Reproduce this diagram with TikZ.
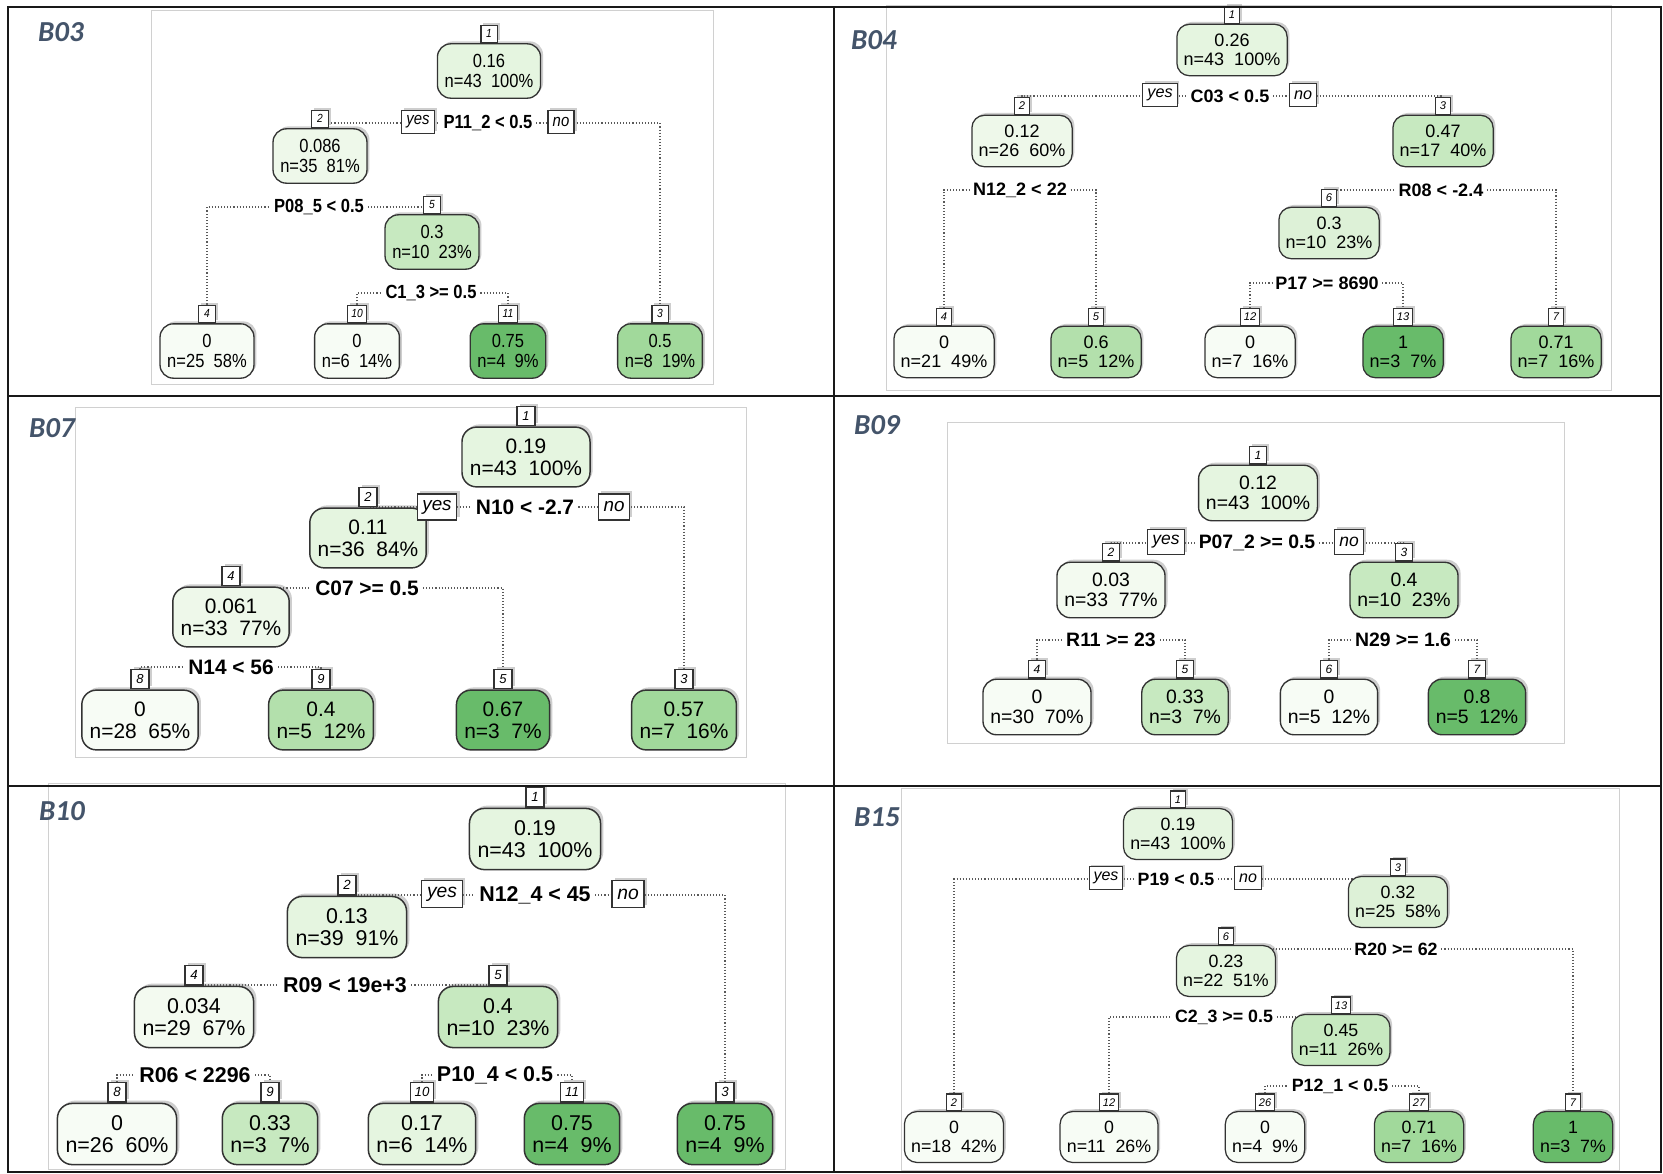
\documentclass[tikz,border=0pt]{standalone}
\usepackage{fontspec}
\setmainfont{Liberation Sans}
\newfontfamily\narrowsf[FakeStretch=0.87]{Liberation Sans}
\newfontfamily\lblfont{Carlito}
\usetikzlibrary{shadows,backgrounds}
\definecolor{gw}{HTML}{F7FCF5}
\definecolor{gl0}{HTML}{F3FAF0}
\definecolor{gl1}{HTML}{EEF8EA}
\definecolor{gl2}{HTML}{E5F5E0}
\definecolor{gl3}{HTML}{DDF1D7}
\definecolor{gm}{HTML}{C7E9C0}
\definecolor{gm2}{HTML}{B3E0AC}
\definecolor{gd}{HTML}{A1D99B}
\definecolor{gx}{HTML}{68BB6A}
\definecolor{lblc}{HTML}{44546A}
\definecolor{imgfr}{HTML}{D0D0D0}
\newcommand\panelfont{\pgfmathsetmacro\pub{1.06*\pu}\pgfmathsetmacro\puy{0.9*\pu}\pgfmathsetmacro\pun{0.62*\pu}\fontsize{\pu}{\pub}\selectfont}
\tikzset{
  shd/.style={drop shadow={shadow xshift={0.13*\pu}, shadow yshift={-0.13*\pu}, opacity=0.35, fill=black!55}},
  tn/.style={draw=black!80, line width={0.07*\pu}, rounded corners={0.7*\pu}, inner xsep={0.38*\pu}, inner ysep=0pt, minimum height={2.86*\pu}, align=center, shd},
  nb/.style={draw=black!80, fill=white, line width={0.06*\pu}, font=\itshape\fontsize{\pun}{\pun}\selectfont, inner xsep={0.2*\pu}, inner ysep=0pt, minimum height={0.92*\pu}, minimum width={0.85*\pu}, shd},
  yn/.style={draw=black!80, fill=white, line width={0.06*\pu}, font=\itshape\fontsize{\puy}{\puy}\selectfont, inner xsep={0.25*\pu}, inner ysep=0pt, minimum height={1.25*\pu}, shd},
  sp/.style={font=\bfseries, inner xsep={0.2*\pu}, inner ysep={0.1*\pu}},
  conn/.style={draw=black!65, line width=1.1pt, dash pattern=on 1.1pt off 2pt},
  imgframe/.style={draw=imgfr, line width=1pt},
  lbl/.style={font=\lblfont\bfseries\itshape\fontsize{29}{32}\selectfont, text=lblc, inner sep=0pt, anchor=mid west},
  grid/.style={draw=black!90, line width=2.8pt}
}
\newcommand\treenode[7]{%
  \node[tn, fill=#5] (#1) at (#3,#4) {#6\\#7};
  \node[nb, anchor=south] (#1b) at (#1.north) {#2};}
\newcommand\splitnode[6]{%
  \node[sp] (#1) at (#2,#3) {#4};
  \begin{scope}[on background layer]
    \draw[conn] (#5.north) |- (#1) -| (#6.north);
  \end{scope}}
\begin{document}
\begin{tikzpicture}[x=1pt,y=-1pt]
\useasboundingbox (0,0) rectangle (1663,1173);
\begin{scope}[on background layer]
  \fill[white] (0,0) rectangle (1663,1173);
  \draw[imgframe] (151,10) rectangle (713,384);
  \draw[imgframe] (886,5) rectangle (1611,390);
  \draw[imgframe] (75,407) rectangle (746,757);
  \draw[imgframe] (947,422) rectangle (1564,743);
  \draw[imgframe] (48,783) rectangle (785,1169);
  \draw[imgframe] (901,788) rectangle (1619,1170);
\end{scope}

% ---------------- B03 ----------------
\begin{scope}
\def\pu{19}\narrowsf\panelfont
\treenode{a1}{1}{489}{71}{gl2}{0.16}{n=43~~100\%}
\treenode{a2}{2}{320}{156}{gl1}{0.086}{n=35~~81\%}
\treenode{a5}{5}{432}{242}{gm}{0.3}{n=10~~23\%}
\treenode{a4}{4}{207}{351}{gw}{0}{n=25~~58\%}
\treenode{a10}{10}{357}{351}{gw}{0}{n=6~~14\%}
\treenode{a11}{11}{508}{351}{gx}{0.75}{n=4~~9\%}
\treenode{a3}{3}{660}{351}{gd}{0.5}{n=8~~19\%}
\splitnode{as1}{488}{123}{P11\_2 < 0.5}{a2b}{a3b}
\splitnode{as2}{319}{207}{P08\_5 < 0.5}{a4b}{a5b}
\splitnode{as3}{431}{293}{C1\_3 >= 0.5}{a10b}{a11b}
\node[yn] (ay) at (418,122) {yes};
\node[yn] (an) at (561,122) {no};
\end{scope}

% ---------------- B04 ----------------
\begin{scope}
\def\pu{18}\panelfont
\treenode{b1}{1}{1232}{50}{gl2}{0.26}{n=43~~100\%}
\treenode{b2}{2}{1022}{141}{gl1}{0.12}{n=26~~60\%}
\treenode{b3}{3}{1443}{141}{gm}{0.47}{n=17~~40\%}
\treenode{b6}{6}{1329}{233}{gl3}{0.3}{n=10~~23\%}
\treenode{b4}{4}{944}{352}{gw}{0}{n=21~~49\%}
\treenode{b5}{5}{1096}{352}{gm2}{0.6}{n=5~~12\%}
\treenode{b12}{12}{1250}{352}{gw}{0}{n=7~~16\%}
\treenode{b13}{13}{1403}{352}{gx}{1}{n=3~~7\%}
\treenode{b7}{7}{1556}{352}{gd}{0.71}{n=7~~16\%}
\splitnode{bs1}{1230}{96}{C03 < 0.5}{b2b}{b3b}
\splitnode{bs2}{1020}{190}{N12\_2 < 22}{b4b}{b5b}
\splitnode{bs3}{1441}{190}{R08 < -2.4}{b6b}{b7b}
\splitnode{bs4}{1327}{283}{P17 >= 8690}{b12b}{b13b}
\node[yn] (by) at (1160,95) {yes};
\node[yn] (bn) at (1303,95) {no};
\end{scope}

% ---------------- B07 ----------------
\begin{scope}
\def\pu{20.9}\panelfont
\treenode{c1}{1}{526}{457}{gl2}{0.19}{n=43~~100\%}
\treenode{c2}{2}{368}{538}{gl2}{0.11}{n=36~~84\%}
\treenode{c4}{4}{231}{617}{gl1}{0.061}{n=33~~77\%}
\treenode{c8}{8}{140}{720}{gw}{0}{n=28~~65\%}
\treenode{c9}{9}{321}{720}{gm2}{0.4}{n=5~~12\%}
\treenode{c5}{5}{503}{720}{gx}{0.67}{n=3~~7\%}
\treenode{c3}{3}{684}{720}{gd}{0.57}{n=7~~16\%}
\splitnode{cs1}{525}{507}{N10 < -2.7}{c2b}{c3b}
\splitnode{cs2}{367}{588}{C07 >= 0.5}{c4b}{c5b}
\splitnode{cs3}{231}{667}{N14 < 56}{c8b}{c9b}
\node[yn] (cy) at (437,507) {yes};
\node[yn] (cn) at (614,507) {no};
\end{scope}

% ---------------- B09 ----------------
\begin{scope}
\def\pu{19.4}\panelfont
\treenode{d1}{1}{1258}{493}{gl2}{0.12}{n=43~~100\%}
\treenode{d2}{2}{1111}{590}{gl0}{0.03}{n=33~~77\%}
\treenode{d3}{3}{1404}{590}{gm}{0.4}{n=10~~23\%}
\treenode{d4}{4}{1037}{707}{gw}{0}{n=30~~70\%}
\treenode{d5}{5}{1185}{707}{gm}{0.33}{n=3~~7\%}
\treenode{d6}{6}{1329}{707}{gw}{0}{n=5~~12\%}
\treenode{d7}{7}{1477}{707}{gx}{0.8}{n=5~~12\%}
\splitnode{ds1}{1257}{543}{P07\_2 >= 0.5}{d2b}{d3b}
\splitnode{ds2}{1111}{640}{R11 >= 23}{d4b}{d5b}
\splitnode{ds3}{1403}{640}{N29 >= 1.6}{d6b}{d7b}
\node[yn] (dy) at (1166,542) {yes};
\node[yn] (dn) at (1349,542) {no};
\end{scope}

% ---------------- B10 ----------------
\begin{scope}
\def\pu{21.4}\panelfont
\treenode{e1}{1}{535}{839}{gl2}{0.19}{n=43~~100\%}
\treenode{e2}{2}{347}{927}{gl2}{0.13}{n=39~~91\%}
\treenode{e4}{4}{194}{1017}{gl0}{0.034}{n=29~~67\%}
\treenode{e5}{5}{498}{1017}{gm}{0.4}{n=10~~23\%}
\treenode{e8}{8}{117}{1134}{gw}{0}{n=26~~60\%}
\treenode{e9}{9}{270}{1134}{gm}{0.33}{n=3~~7\%}
\treenode{e10}{10}{422}{1134}{gl2}{0.17}{n=6~~14\%}
\treenode{e11}{11}{572}{1134}{gx}{0.75}{n=4~~9\%}
\treenode{e3}{3}{725}{1134}{gx}{0.75}{n=4~~9\%}
\splitnode{es1}{535}{895}{N12\_4 < 45}{e2b}{e3b}
\splitnode{es2}{345}{985}{R09 < 19e+3}{e4b}{e5b}
\splitnode{es3}{195}{1075}{R06 < 2296}{e8b}{e9b}
\splitnode{es4}{495}{1075}{P10\_4 < 0.5}{e10b}{e11b}
\node[yn] (ey) at (442,894) {yes};
\node[yn] (en) at (628,894) {no};
\end{scope}

% ---------------- B15 ----------------
\begin{scope}
\def\pu{17.8}\panelfont
\treenode{f1}{1}{1178}{834}{gl2}{0.19}{n=43~~100\%}
\treenode{f3}{3}{1398}{902}{gl3}{0.32}{n=25~~58\%}
\treenode{f6}{6}{1226}{971}{gl2}{0.23}{n=22~~51\%}
\treenode{f13}{13}{1341}{1040}{gm}{0.45}{n=11~~26\%}
\treenode{f2}{2}{954}{1137}{gw}{0}{n=18~~42\%}
\treenode{f12}{12}{1109}{1137}{gw}{0}{n=11~~26\%}
\treenode{f26}{26}{1265}{1137}{gw}{0}{n=4~~9\%}
\treenode{f27}{27}{1419}{1137}{gd}{0.71}{n=7~~16\%}
\treenode{f7}{7}{1573}{1137}{gx}{1}{n=3~~7\%}
\splitnode{fs1}{1176}{879}{P19 < 0.5}{f2b}{f3b}
\splitnode{fs2}{1396}{949}{R20 >= 62}{f6b}{f7b}
\splitnode{fs3}{1224}{1017}{C2\_3 >= 0.5}{f12b}{f13b}
\splitnode{fs4}{1340}{1086}{P12\_1 < 0.5}{f26b}{f27b}
\node[yn] (fy) at (1106,878) {yes};
\node[yn] (fn) at (1248,878) {no};
\end{scope}

% ---------------- panel labels ----------------
\node[lbl] (la) at (38,39) {B03};
\node[lbl] (lb) at (851,47) {B04};
\node[lbl] (lc) at (29,435) {B07};
\node[lbl] (ld) at (854,432) {B09};
\node[lbl] (le) at (39,818) {B10};
\node[lbl] (lf) at (854,824) {B15};

% ---------------- outer grid ----------------
\draw[grid] (8,7) rectangle (1661,1172);
\draw[grid] (834,7) -- (834,1172);
\draw[grid] (8,396) -- (1661,396);
\draw[grid] (8,786) -- (1661,786);
\end{tikzpicture}
\end{document}
